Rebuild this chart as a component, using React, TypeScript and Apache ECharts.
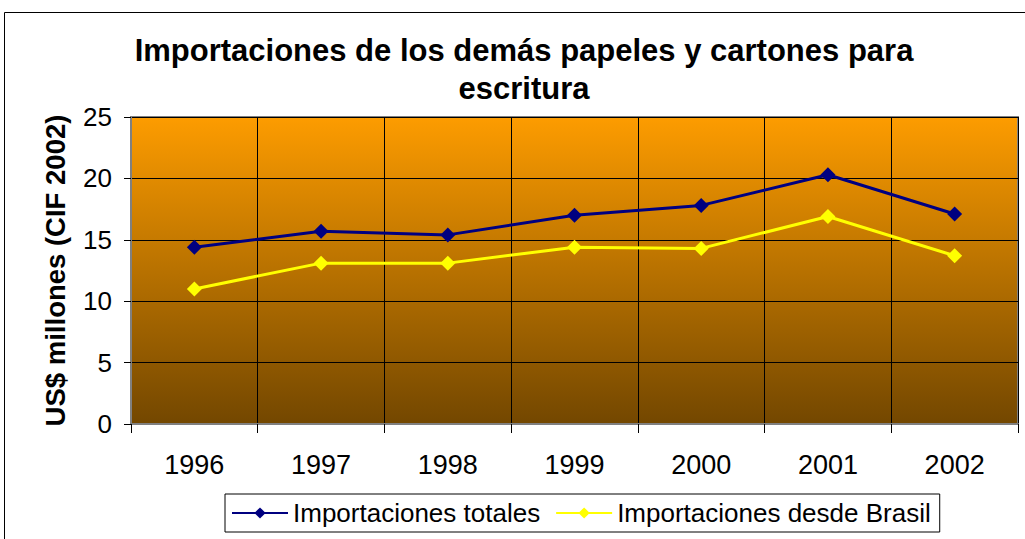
import React, { useEffect, useRef } from "react";
import * as echarts from "echarts";

const years = ["1996", "1997", "1998", "1999", "2000", "2001", "2002"];
const totales = [14.4, 15.7, 15.4, 17.0, 17.8, 20.3, 17.1];
const brasil = [11.0, 13.1, 13.1, 14.4, 14.3, 16.9, 13.7];
const seriesNames = ["Importaciones totales", "Importaciones desde Brasil"];
const titleText = "Importaciones de los demás papeles y cartones para\nescritura";
const yName = "US$ millones (CIF 2002)";

const FONT = "'Liberation Sans', Arial, sans-serif";

export default function App() {
  const ref = useRef<HTMLDivElement>(null);
  useEffect(() => {
    if (!ref.current) return;
    const chart = echarts.init(ref.current, null, { renderer: "svg" });
    chart.setOption({
      animation: false,
      backgroundColor: "#ffffff",
      textStyle: { fontFamily: FONT },
      title: {
        text: titleText,
        left: 519,
        textAlign: "center",
        top: 26,
        textStyle: { fontSize: 31, fontWeight: "bold", color: "#000", lineHeight: 38, fontFamily: FONT },
      },
      graphic: [
        {
          type: "rect",
          shape: { x: 4.5, y: 12.5, width: 1040, height: 560 },
          style: { fill: "none", stroke: "#000", lineWidth: 1 },
          silent: true,
          z: -1,
        },
      ],
      legend: {
        left: 225,
        top: 494,
        data: seriesNames,
        itemWidth: 56,
        itemHeight: 14,
        itemGap: 15,
        padding: [6, 9, 6, 6],
        borderColor: "#000",
        borderWidth: 1,
        textStyle: { fontSize: 26, color: "#000", fontFamily: FONT },
      },
      grid: {
        left: 131,
        top: 117,
        right: 7,
        bottom: 115,
        show: true,
        borderColor: "#808080",
        borderWidth: 2,
        backgroundColor: new echarts.graphic.LinearGradient(0, 0, 0, 1, [
          { offset: 0, color: "#FD9C00" },
          { offset: 1, color: "#734700" },
        ]),
      },
      xAxis: {
        type: "category",
        data: years,
        boundaryGap: true,
        axisLine: { lineStyle: { color: "#808080", width: 2 } },
        axisTick: { show: true, length: 9, lineStyle: { color: "#000" } },
        splitLine: { show: true, lineStyle: { color: "#000", width: 1 } },
        axisLabel: { fontSize: 27, color: "#000", margin: 27, fontFamily: FONT },
      },
      yAxis: {
        type: "value",
        min: 0,
        max: 25,
        interval: 5,
        name: yName,
        nameLocation: "middle",
        nameRotate: 90,
        nameGap: 62,
        nameTextStyle: { fontSize: 27.5, fontWeight: "bold", color: "#000", fontFamily: FONT },
        axisLine: { show: true, lineStyle: { color: "#808080", width: 2 } },
        axisTick: { show: true, length: 7, lineStyle: { color: "#000" } },
        splitLine: { show: true, lineStyle: { color: "#000", width: 1 } },
        axisLabel: { fontSize: 26, color: "#000", margin: 19, fontFamily: FONT },
      },
      series: [
        {
          name: seriesNames[0],
          type: "line",
          data: totales,
          symbol: "diamond",
          symbolSize: 15,
          lineStyle: { color: "#000080", width: 3 },
          itemStyle: { color: "#000080" },
          z: 3,
        },
        {
          name: seriesNames[1],
          type: "line",
          data: brasil,
          symbol: "diamond",
          symbolSize: 15,
          lineStyle: { color: "#FFFF00", width: 3 },
          itemStyle: { color: "#FFFF00" },
          z: 3,
        },
      ],
    });
    return () => chart.dispose();
  }, []);
  return (
    <div
      ref={ref}
      style={{ position: "absolute", left: 0, top: 0, width: 1025, height: 539 }}
    />
  );
}
